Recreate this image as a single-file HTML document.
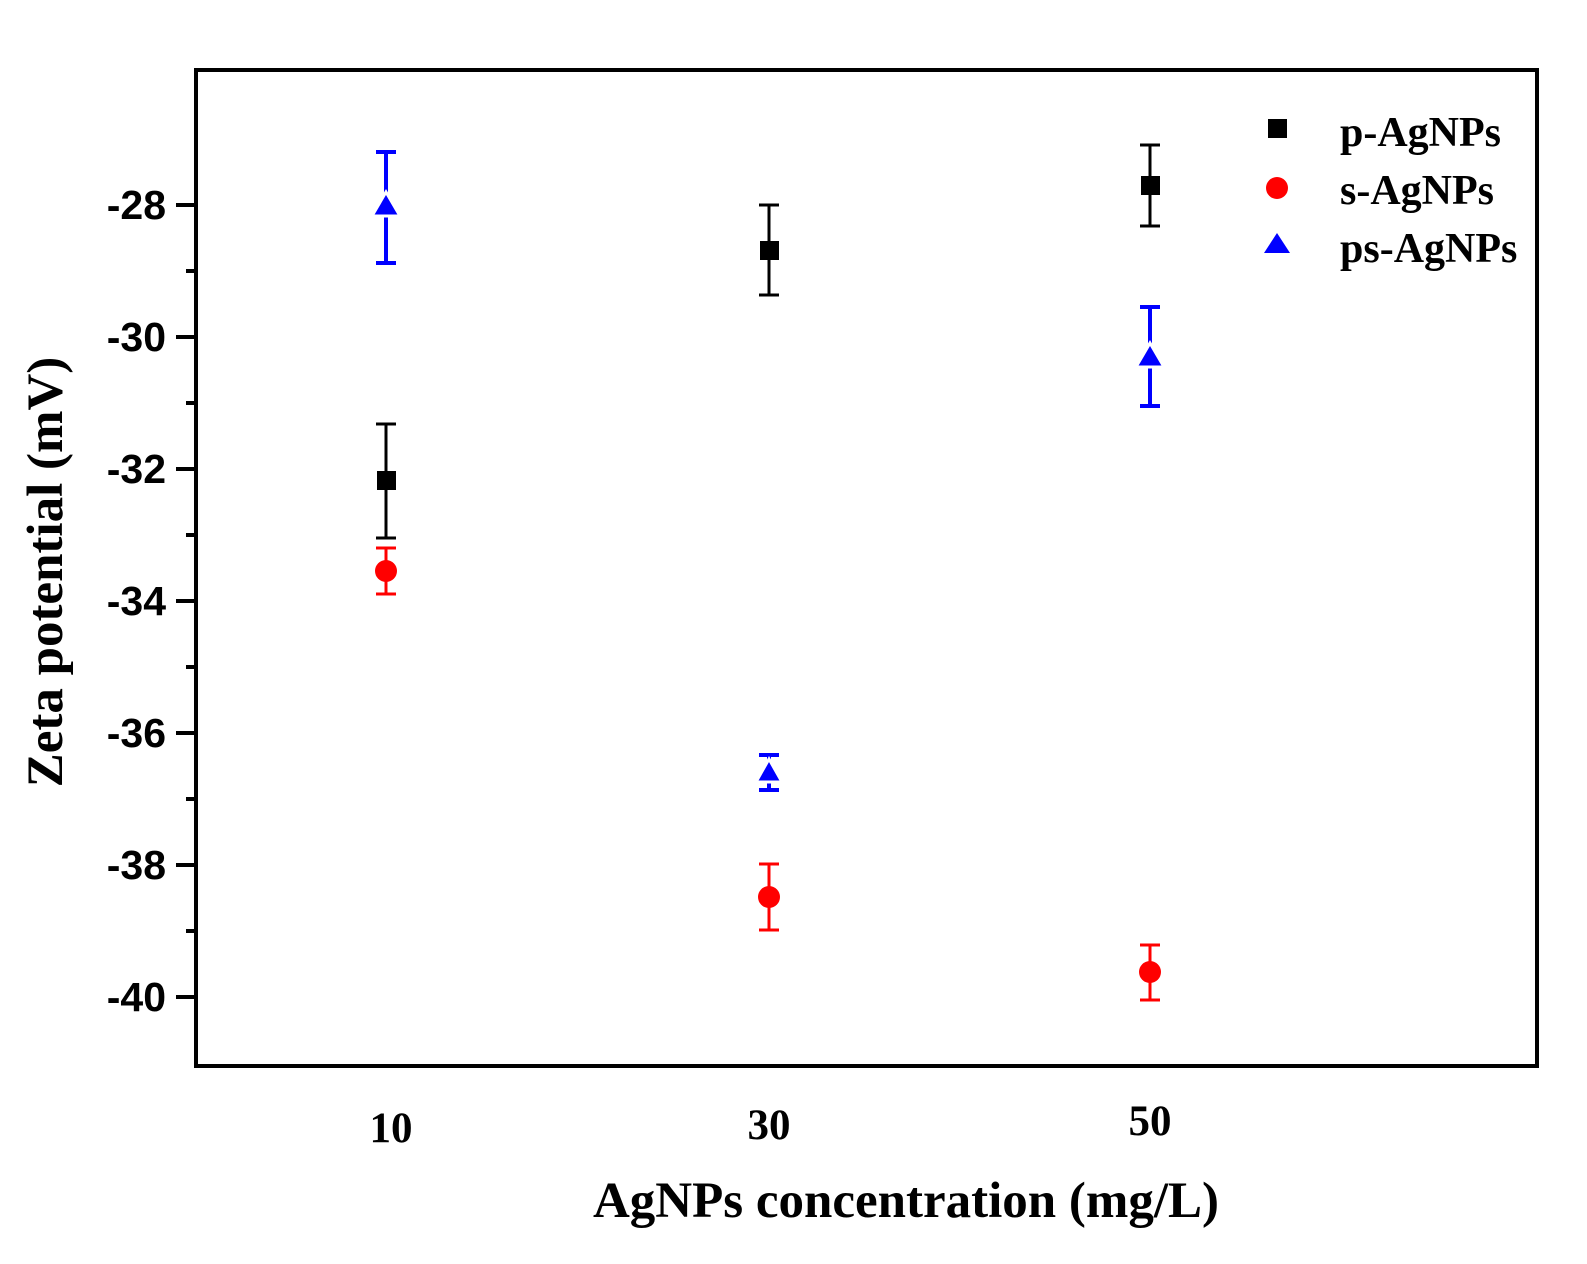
<!DOCTYPE html>
<html><head><meta charset="utf-8"><style>html,body{margin:0;padding:0;background:#fff}</style></head><body>
<svg width="1587" height="1259" viewBox="0 0 1587 1259" xmlns="http://www.w3.org/2000/svg">
<rect width="1587" height="1259" fill="#fff"/>
<rect x="196" y="70" width="1341" height="996" fill="none" stroke="#000" stroke-width="4"/>
<g stroke="#000" stroke-width="4">
<line x1="176" y1="205" x2="196" y2="205"/>
<line x1="176" y1="337" x2="196" y2="337"/>
<line x1="176" y1="469" x2="196" y2="469"/>
<line x1="176" y1="601" x2="196" y2="601"/>
<line x1="176" y1="733" x2="196" y2="733"/>
<line x1="176" y1="865" x2="196" y2="865"/>
<line x1="176" y1="997" x2="196" y2="997"/>
<line x1="186" y1="271" x2="196" y2="271"/>
<line x1="186" y1="403" x2="196" y2="403"/>
<line x1="186" y1="535" x2="196" y2="535"/>
<line x1="186" y1="667" x2="196" y2="667"/>
<line x1="186" y1="799" x2="196" y2="799"/>
<line x1="186" y1="931" x2="196" y2="931"/>
</g>
<g font-family="Liberation Sans, sans-serif" font-weight="bold" font-size="41" text-anchor="end" fill="#000">
<text x="166" y="219">-28</text>
<text x="166" y="351">-30</text>
<text x="166" y="483">-32</text>
<text x="166" y="615">-34</text>
<text x="166" y="747">-36</text>
<text x="166" y="879">-38</text>
<text x="166" y="1011">-40</text>
</g>
<g font-family="Liberation Serif, serif" font-weight="bold" font-size="43" text-anchor="middle" fill="#000">
<text x="391" y="1142">10</text>
<text x="769" y="1139">30</text>
<text x="1150" y="1135">50</text>
</g>
<text x="906" y="1217" font-family="Liberation Serif, serif" font-weight="bold" font-size="51" text-anchor="middle">AgNPs concentration (mg/L)</text>
<text transform="translate(62,572) rotate(-90)" font-family="Liberation Serif, serif" font-weight="bold" font-size="51" text-anchor="middle">Zeta potential (mV)</text>
<g stroke="#000" stroke-width="3" fill="#000">
<line x1="386" y1="424" x2="386" y2="538"/><line x1="376" y1="424" x2="396" y2="424"/><line x1="376" y1="538" x2="396" y2="538"/>
<rect x="377" y="471" width="19" height="19" stroke="none"/>
<line x1="769" y1="205" x2="769" y2="295"/><line x1="759" y1="205" x2="779" y2="205"/><line x1="759" y1="295" x2="779" y2="295"/>
<rect x="760" y="241" width="19" height="19" stroke="none"/>
<line x1="1150" y1="145" x2="1150" y2="226"/><line x1="1140" y1="145" x2="1160" y2="145"/><line x1="1140" y1="226" x2="1160" y2="226"/>
<rect x="1141" y="176" width="19" height="19" stroke="none"/>
</g>
<g stroke="#f00" stroke-width="3" fill="#f00">
<line x1="386" y1="548" x2="386" y2="594"/><line x1="376" y1="548" x2="396" y2="548"/><line x1="376" y1="594" x2="396" y2="594"/>
<circle cx="386" cy="571" r="11" stroke="none"/>
<line x1="769" y1="864" x2="769" y2="930"/><line x1="759" y1="864" x2="779" y2="864"/><line x1="759" y1="930" x2="779" y2="930"/>
<circle cx="769" cy="897" r="11" stroke="none"/>
<line x1="1150" y1="945" x2="1150" y2="1000"/><line x1="1140" y1="945" x2="1160" y2="945"/><line x1="1140" y1="1000" x2="1160" y2="1000"/>
<circle cx="1150" cy="972" r="11" stroke="none"/>
</g>
<g stroke="#00f" stroke-width="4" fill="#00f">
<line x1="386" y1="152" x2="386" y2="263"/><line x1="376" y1="152" x2="396" y2="152"/><line x1="376" y1="263" x2="396" y2="263"/>
<polygon points="386,192 400,216 372,216" stroke="#fff" stroke-width="3"/>
<line x1="769" y1="755" x2="769" y2="790"/><line x1="759" y1="755" x2="779" y2="755"/><line x1="759" y1="790" x2="779" y2="790"/>
<polygon points="769,759 782,782 756,782" stroke="#fff" stroke-width="3"/>
<line x1="1150" y1="307" x2="1150" y2="406"/><line x1="1140" y1="307" x2="1160" y2="307"/><line x1="1140" y1="406" x2="1160" y2="406"/>
<polygon points="1150,343 1164,367 1136,367" stroke="#fff" stroke-width="3"/>
</g>
<rect x="1268" y="119" width="19" height="19" fill="#000"/>
<circle cx="1277" cy="188" r="11" fill="#f00"/>
<polygon points="1277,233 1290,253 1264,253" fill="#00f"/>
<g font-family="Liberation Serif, serif" font-weight="bold" font-size="42" fill="#000">
<text x="1340" y="146">p-AgNPs</text>
<text x="1340" y="204">s-AgNPs</text>
<text x="1340" y="262">ps-AgNPs</text>
</g>
</svg>
</body></html>
